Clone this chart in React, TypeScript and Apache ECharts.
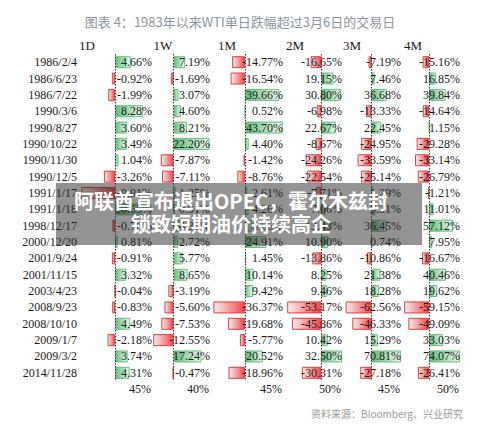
import React, { useEffect, useRef } from 'react';
import * as echarts from 'echarts';

// Trading days with a large WTI one-day drop, and the returns that followed
const tradeDates = [
  '1986/2/4', '1986/6/23', '1986/7/22', '1990/3/6', '1990/8/27', '1990/10/22',
  '1990/11/30', '1990/12/5', '1991/1/17', '1991/1/18', '1998/12/17', '2000/12/20',
  '2001/9/24', '2001/11/15', '2003/4/23', '2008/9/23', '2008/10/10', '2009/1/7',
  '2009/3/2', '2014/11/28',
];
const ret1D = [4.66, -0.92, -1.99, 8.28, 3.6, 3.49, 1.04, -3.26, -9.91, 10.65, -0.76, 0.81, -0.91, 3.32, -0.04, -0.83, 4.49, -2.18, 3.74, 4.31];
const ret1W = [7.19, -1.69, 3.07, 4.6, 8.21, 22.2, -7.87, -7.11, 1.25, 0.91, 4.36, 2.72, 5.77, 8.65, -3.19, -5.6, -7.53, -12.55, 17.24, -0.47];
const ret1M = [-14.77, -16.54, 39.66, 0.52, 43.7, 4.4, -1.42, -8.76, 2.61, 4.26, 8.06, 24.91, 1.45, 10.14, 9.42, -36.37, -19.68, -5.77, 20.52, -18.96];
const ret2M = [-16.65, 19.15, 30.8, -6.98, 22.67, -8.67, -24.26, -22.54, -7.71, 7.06, 13.43, 10.9, -13.86, 8.25, 9.46, -53.17, -45.86, 10.42, 32.5, -30.31];
const ret3M = [-7.19, 7.46, 36.68, -13.33, 22.45, -24.95, -33.59, -25.14, 1.29, 9.31, 36.45, 0.74, -10.86, 21.38, 18.28, -62.56, -46.33, 15.29, 70.81, -27.18];
const ret4M = [-15.16, 16.85, 39.84, -14.64, 1.15, -29.28, -33.14, -26.79, -1.21, 11.01, 57.12, 7.95, -16.67, 40.46, 19.62, -59.15, -49.09, 33.03, 74.07, -26.41];
const horizons = ['1D', '1W', '1M', '2M', '3M', '4M'];
const upShare = ['45%', '40%', '45%', '50%', '45%', '50%'];

const titleText = '图表 4：1983年以来WTI单日跌幅超过3月6日的交易日';
const sourceText = '资料来源：Bloomberg、兴业研究';
const bannerLines = ['阿联酋宣布退出OPEC，霍尔木兹封', '锁致短期油价持续高企'];

const returns = [ret1D, ret1W, ret1M, ret2M, ret3M, ret4M];

// Column layout (pixels) and per-column bar scales
const colLeft = [80, 152, 212, 287, 345, 404];
const colRight = [152, 210, 283, 342, 401, 460];
const colMin = [-10.3, -13.3, -38, -53.5, -64, -59.5];
const colMax = [10.9, 22.5, 44, 32.5, 71, 74];
const headerX = [87, 163, 227, 295, 352, 413];
const GRID_TOP = 54;
const GRID_H = 327;

const SERIF = '"Liberation Serif", "Times New Roman", serif';
const CJK = '"Noto Sans CJK SC", "Noto Sans", sans-serif';

const posFill = () =>
  new echarts.graphic.LinearGradient(0, 0, 1, 0, [
    { offset: 0, color: '#63be7b' },
    { offset: 1, color: '#eef8f0' },
  ]);
const negFill = () =>
  new echarts.graphic.LinearGradient(1, 0, 0, 0, [
    { offset: 0, color: '#f5474a' },
    { offset: 1, color: '#fdeeee' },
  ]);

const fmt = (v: number) => v.toFixed(2) + '%';

export default function App() {
  const ref = useRef<HTMLDivElement>(null);

  useEffect(() => {
    if (!ref.current) return;
    const chart = echarts.init(ref.current, undefined, { renderer: 'svg' });

    const grid: any[] = [];
    const xAxis: any[] = [];
    const yAxis: any[] = [];
    const series: any[] = [];

    returns.forEach((vals, i) => {
      grid.push({
        left: colLeft[i],
        width: colRight[i] - colLeft[i],
        top: GRID_TOP,
        height: GRID_H,
        containLabel: false,
        outerBoundsMode: 'none',
      });
      xAxis.push({
        type: 'value',
        gridIndex: i,
        min: colMin[i],
        max: colMax[i],
        show: false,
      });
      // left axis: trade dates (shown on the first column only)
      yAxis.push({
        type: 'category',
        gridIndex: i,
        data: tradeDates,
        inverse: true,
        position: 'left',
        show: i === 0,
        axisLine: { show: false },
        axisTick: { show: false },
        splitLine: { show: false },
        axisLabel: {
          margin: 3,
          color: '#1a1a1a',
          fontFamily: SERIF,
          fontSize: 12,
        },
      });
      // right axis: the value text of each cell
      yAxis.push({
        type: 'category',
        gridIndex: i,
        data: tradeDates,
        inverse: true,
        position: 'right',
        z: 5,
        axisLine: { show: false },
        axisTick: { show: false },
        splitLine: { show: false },
        axisLabel: {
          inside: true,
          margin: 0,
          color: '#1a1a1a',
          fontFamily: SERIF,
          fontSize: 12,
          formatter: (_: string, idx: number) => fmt(vals[idx]),
        },
      });
      series.push({
        type: 'bar',
        xAxisIndex: i,
        yAxisIndex: i * 2,
        barWidth: 12,
        z: 2,
        data: vals.map((v) => ({
          value: v,
          itemStyle: {
            color: v >= 0 ? posFill() : negFill(),
            borderColor: v >= 0 ? '#63be7b' : '#e8393c',
            borderWidth: 1,
          },
        })),
        markLine: {
          silent: true,
          symbol: 'none',
          label: { show: false },
          lineStyle: { color: '#2a3a2a', type: [1.5, 1.5], width: 1 },
          data: [{ xAxis: 0 }],
        },
      });
    });

    const graphic: any[] = [
      {
        type: 'text',
        x: 240,
        y: 21,
        style: {
          text: titleText,
          fill: '#8a95a1',
          font: `13px ${CJK}`,
          textAlign: 'center',
          verticalAlign: 'middle',
        },
      },
      ...horizons.map((h, i) => ({
        type: 'text',
        x: headerX[i],
        y: 45,
        style: {
          text: h,
          fill: '#1a1a1a',
          font: `13px ${SERIF}`,
          textAlign: 'center',
          verticalAlign: 'middle',
        },
      })),
      ...upShare.map((s, i) => ({
        type: 'text',
        x: colRight[i] - 1,
        y: 389,
        style: {
          text: s,
          fill: '#1a1a1a',
          font: `12px ${SERIF}`,
          textAlign: 'right',
          verticalAlign: 'middle',
        },
      })),
      {
        type: 'text',
        x: 463,
        y: 413,
        style: {
          text: sourceText,
          fill: '#9a9a9a',
          font: `10px ${CJK}`,
          textAlign: 'right',
          verticalAlign: 'middle',
        },
      },
      {
        type: 'rect',
        z: 100,
        shape: { x: 56, y: 183, width: 366, height: 62 },
        style: { fill: 'rgba(40,40,40,0.5)' },
      },
      ...bannerLines.map((line, i) => ({
        type: 'text',
        z: 101,
        x: 231,
        y: 200 + i * 23,
        style: {
          text: line,
          fill: '#ffffff',
          font: `bold 20px ${CJK}`,
          textAlign: 'center',
          verticalAlign: 'middle',
        },
      })),
    ];

    chart.setOption({
      animation: false,
      backgroundColor: '#ffffff',
      grid,
      xAxis,
      yAxis,
      series,
      graphic,
    });

    return () => chart.dispose();
  }, []);

  return <div ref={ref} style={{ width: 480, height: 429, position: 'absolute', left: 0, top: 0 }} />;
}
